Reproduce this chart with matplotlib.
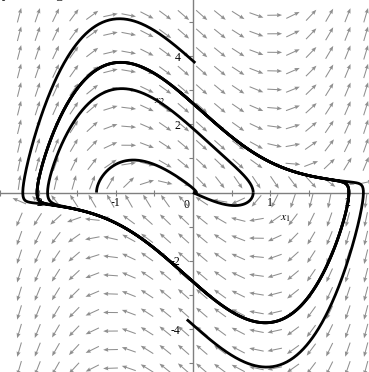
import numpy as np
import matplotlib
matplotlib.use("Agg")
import matplotlib.pyplot as plt

# ---- data ----
mu = 2.0                                   # damping parameter of the system
x_range = (-2.42, 2.28)
y_range = (-5.26, 5.645)
# trajectories: start point, time run backward, time run forward
start_x1 = [0.03, -0.08, 0.78, -1.25]
start_x2 = [3.80, -3.72, 0.00, 0.00]
t_back = [12.0, 12.0, 10.0, 0.0]
t_fwd = [0.0, 0.0, 15.0, 15.0]
# direction-field grid
grid_x1 = np.linspace(-2.25, 2.24, 20)
grid_x2 = np.linspace(-5.15, 5.20, 20)
xticks_major = [-2, -1, 1, 2]
xticks_minor = [-2.5, -1.5, -0.5, 0.5, 1.5]
yticks_major = [-4, -2, 2, 4]
yticks_minor = [-5, -3, -1, 1, 3, 5]


def field(x1, x2):
    return x2, -x1 - mu * (1 - x1 ** 2) * x2


def integrate(p0, T, n=4000):
    h = T / n
    s = np.array(p0, float)
    pts = [s.copy()]
    for _ in range(n):
        k1 = np.array(field(*s))
        k2 = np.array(field(*(s + h / 2 * k1)))
        k3 = np.array(field(*(s + h / 2 * k2)))
        k4 = np.array(field(*(s + h * k3)))
        s = s + h / 6 * (k1 + 2 * k2 + 2 * k3 + k4)
        pts.append(s.copy())
    return np.array(pts)


W, H = 369, 372
fig = plt.figure(figsize=(W / 100, H / 100), dpi=100)
ax = fig.add_axes([0, 0, 1, 1])
ax.set_xlim(*x_range)
ax.set_ylim(*y_range)
sx = W / (x_range[1] - x_range[0])     # pixels per unit
sy = H / (y_range[1] - y_range[0])

# direction field arrows (normalised in screen space)
GX, GY = np.meshgrid(grid_x1, grid_x2)
U, V = field(GX, GY)
pu, pv = U * sx, V * sy
norm = np.hypot(pu, pv)
L = 15.0
du = L * pu / norm / sx
dv = L * pv / norm / sy
ax.quiver(GX - du / 2, GY - dv / 2, du, dv, angles='xy', scale_units='xy', scale=1,
          color='#8f8f8f', width=0.0028, headwidth=4, headlength=5,
          headaxislength=4.5, zorder=2)

# axes through the origin
for s in ['top', 'right']:
    ax.spines[s].set_visible(False)
ax.spines['left'].set_position(('data', 0))
ax.spines['bottom'].set_position(('data', 0))
for s in ['left', 'bottom']:
    ax.spines[s].set_color('#7f7f7f')
    ax.spines[s].set_linewidth(1.0)
    ax.spines[s].set_zorder(1)
ax.set_xticks(xticks_major)
ax.set_xticks(xticks_minor, minor=True)
ax.set_yticks(yticks_major)
ax.set_yticks(yticks_minor, minor=True)
ax.set_xticklabels([str(v) if v >= 0 else '-' + str(-v) for v in xticks_major])
ax.set_yticklabels([str(v) if v >= 0 else '-' + str(-v) for v in yticks_major])
ax.tick_params(axis='x', which='both', direction='inout', length=4, width=0.8,
               color='#7f7f7f', pad=1)
ax.tick_params(axis='y', which='both', direction='out', length=3, width=0.8,
               color='#7f7f7f', pad=6)
for lab in ax.get_xticklabels() + ax.get_yticklabels():
    lab.set_fontfamily('Liberation Serif')
    lab.set_fontsize(8.5)
ax.text(-0.08, -0.18, '0', fontfamily='Liberation Serif', fontsize=8.5,
        ha='center', va='top', zorder=1)
ax.text(1.13, -0.72, '$x_1$', fontsize=8.5, ha='left', va='center', zorder=1,
        math_fontfamily='stix')
ax.text(-0.51, 2.71, '$x_2$', fontsize=8.5, ha='left', va='center', zorder=1,
        math_fontfamily='stix')

# trajectories
for x0, y0, tb, tf in zip(start_x1, start_x2, t_back, t_fwd):
    if tb > 0:
        tr = integrate((x0, y0), -tb)
        ax.plot(tr[:, 0], tr[:, 1], color='black', lw=2.0, zorder=3,
                solid_capstyle='butt')
    if tf > 0:
        tr = integrate((x0, y0), tf)
        ax.plot(tr[:, 0], tr[:, 1], color='black', lw=2.0, zorder=3,
                solid_capstyle='butt')

# title remnant cut off at the top edge
fig.text(2 / W, 1 + 1.5 / H, 'y', fontfamily='Liberation Serif', fontsize=11,
         ha='left', va='baseline')
fig.text(55 / W, 1 + 1.5 / H, 'g', fontfamily='Liberation Serif', fontsize=11,
         ha='left', va='baseline')

fig.savefig('out.png', dpi=100)
